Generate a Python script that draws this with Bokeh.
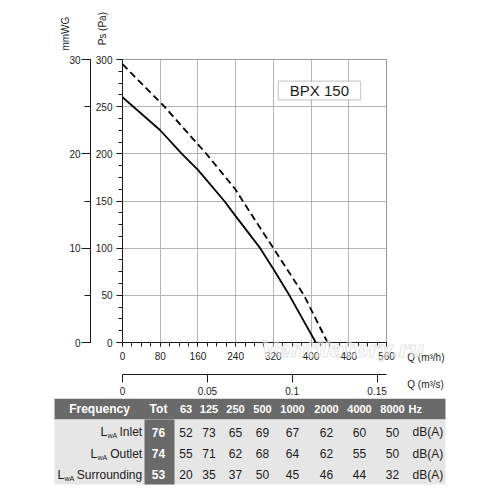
from math import pi
from bokeh.plotting import figure
from bokeh.models import (Range1d, LinearAxis, SingleIntervalTicker, FixedTicker,
                          NumeralTickFormatter, Label, BoxAnnotation)
from bokeh.layouts import column
from bokeh.embed import file_html
from bokeh.resources import INLINE
from bokeh.core.properties import value

# ---------------- data ----------------
q_solid = [0, 80, 126, 160, 216, 240, 292, 320, 354, 410]
ps_solid = [260, 225, 200, 183, 150, 134, 100, 78, 50, 0]
q_dashed = [0, 89, 160, 178, 240, 255, 320, 385, 435]
ps_dashed = [295, 250, 210, 200, 162, 150, 100, 50, 0]

q_max_m3h = 560
ps_max = 300
mmwg_max = 30
qs_ticks = [0, 0.05, 0.1, 0.15]
model_name = "BPX 150"

bands = ["63", "125", "250", "500", "1000", "2000", "4000", "8000"]
row_names = ["Inlet", "Outlet", "Surrounding"]
tot_values = [76, 74, 53]
inlet = [52, 73, 65, 69, 67, 62, 60, 50]
outlet = [55, 71, 62, 68, 64, 62, 55, 50]
surrounding = [20, 35, 37, 50, 45, 46, 44, 32]

FONT = "Liberation Sans"
INK = "#1a1a1a"

# ---------------- chart ----------------
p = figure(width=490, height=398, x_range=Range1d(0, q_max_m3h), y_range=Range1d(0, ps_max),
           output_backend="svg", toolbar_location=None, frame_align=False,
           min_border_left=122, min_border_right=104, min_border_top=59, min_border_bottom=56,
           outline_line_color="#9a9a9a")
p.background_fill_color = "white"
p.border_fill_color = "white"

xa = p.xaxis[0]
xa.ticker = SingleIntervalTicker(interval=80, num_minor_ticks=4)
ya = p.yaxis[0]
ya.ticker = SingleIntervalTicker(interval=50, num_minor_ticks=4)

for ax in (xa, ya):
    ax.axis_line_color = INK
    ax.major_tick_line_color = INK
    ax.minor_tick_line_color = INK
    ax.major_tick_in = 0
    ax.minor_tick_in = 0
    ax.major_label_text_font = FONT
    ax.major_label_text_font_size = "10px"
    ax.major_label_text_color = INK
    ax.axis_label = " "

xa.major_tick_out = 4
xa.minor_tick_out = 4
xa.major_label_standoff = 5
xa.axis_label_standoff = 0
xa.axis_label_text_font_size = "8px"

ya.major_tick_out = 6
ya.minor_tick_out = 4
ya.major_label_standoff = 4
ya.axis_label_standoff = -7
ya.axis_label_text_font_size = "6px"

p.xgrid.grid_line_color = "#b4b4b4"
p.ygrid.grid_line_color = "#b4b4b4"

# secondary axes
p.extra_y_ranges = {"mm": Range1d(0, mmwg_max)}
mm_axis = LinearAxis(y_range_name="mm", ticker=SingleIntervalTicker(interval=10, num_minor_ticks=2),
                     major_tick_out=9, major_tick_in=0, minor_tick_out=6, minor_tick_in=0,
                     major_label_standoff=1, axis_line_color=INK, major_tick_line_color=INK,
                     minor_tick_line_color=INK, major_label_text_font=FONT,
                     major_label_text_font_size="10px", major_label_text_color=INK)
p.add_layout(mm_axis, "left")

p.extra_x_ranges = {"qs": Range1d(0, q_max_m3h / 3600)}
qs_axis = LinearAxis(x_range_name="qs", ticker=FixedTicker(ticks=qs_ticks),
                     formatter=NumeralTickFormatter(format="0.[00]"),
                     major_tick_out=8, major_tick_in=0, minor_tick_out=0, minor_tick_in=0,
                     major_label_standoff=4, axis_line_color=INK, major_tick_line_color=INK,
                     major_label_text_font=FONT, major_label_text_font_size="10px",
                     major_label_text_color=INK)
p.add_layout(qs_axis, "below")

# curves
p.line(q_solid, ps_solid, line_color="black", line_width=1.8)
p.line(q_dashed, ps_dashed, line_color="black", line_width=1.8, line_dash="7 4")

# model box
p.add_layout(BoxAnnotation(left=330.5, right=505, bottom=257.3, top=277, fill_color="white",
                           fill_alpha=1, line_color="#555555", line_width=1.2))
p.add_layout(Label(x=417.7, y=267, text=model_name, text_align="center", text_baseline="middle",
                   text_font=FONT, text_font_size="15px", text_color=INK))

# axis titles (outside the frame)
p.text(x=[-42.4, -120], y=[315, 309.5], text=["Ps (Pa)", "mmWG"], angle=pi / 2,
       text_align="left", text_baseline="middle", text_font=value(FONT),
       text_font_size="10px", text_color=INK, level="overlay")
p.text(x=[604, 604], y=[-16, -44.5], text=["Q (m³/h)", "Q (m³/s)"], text_align="left",
       text_baseline="middle", text_font=value(FONT), text_font_size="10px",
       text_color=INK, level="overlay")

# watermark
p.text(x=[295], y=[-8], text=["Ventilatory.ru"], text_align="left", text_baseline="middle",
       text_font=value("DejaVu Sans"), text_font_size="21px", text_font_style="bold italic",
       text_color="white", text_alpha=0.5, text_outline_color="#c4c4c4", level="overlay")

# ---------------- table ----------------
t = figure(width=490, height=90, x_range=Range1d(0, 490), y_range=Range1d(90, 0),
           output_backend="svg", toolbar_location=None, min_border=0, frame_align=False,
           x_axis_location=None, y_axis_location=None, outline_line_color=None)
t.grid.visible = False
t.background_fill_color = "white"
t.border_fill_color = "white"

DARK = "#6a6a6a"
LIGHT = "#e6e6e6"
t.quad(left=[54], right=[445], top=[0], bottom=[21], fill_color=DARK, line_color=None)
t.quad(left=[54], right=[445], top=[21], bottom=[86], fill_color=LIGHT, line_color=None)
t.quad(left=[144], right=[174], top=[21], bottom=[86], fill_color=DARK, line_color=None)

col_x = [185.5, 208.5, 235, 262, 292, 326, 359, 392]
row_y = [33.5, 55, 76]
head_y = 10.5
tot_x = 158
label_right = 141.7
l_left = [100, 90, 57]

# header
t.text(x=[99], y=[head_y], text=["Frequency"], text_align="center", text_baseline="middle",
       text_font=value(FONT), text_font_size="12px", text_font_style="bold", text_color="white")
t.text(x=[tot_x], y=[head_y], text=["Tot"], text_align="center", text_baseline="middle",
       text_font=value(FONT), text_font_size="12px", text_font_style="bold", text_color="white")
t.text(x=col_x, y=[head_y] * len(bands), text=bands, text_align="center", text_baseline="middle",
       text_font=value(FONT), text_font_size="11px", text_font_style="bold", text_color="white")
t.text(x=[408], y=[head_y], text=["Hz"], text_align="left", text_baseline="middle",
       text_font=value(FONT), text_font_size="11px", text_font_style="bold", text_color="white")

# row labels
t.text(x=[label_right] * 3, y=row_y, text=row_names, text_align="right", text_baseline="middle",
       text_font=value(FONT), text_font_size="12px", text_color=INK)
t.text(x=l_left, y=row_y, text=["L"] * 3, text_align="left", text_baseline="middle",
       text_font=value(FONT), text_font_size="12px", text_color=INK)
t.text(x=[v + 7 for v in l_left], y=[v + 3.5 for v in row_y], text=["wA"] * 3, text_align="left",
       text_baseline="middle", text_font=value(FONT), text_font_size="7px", text_color=INK)

# tot values
t.text(x=[tot_x] * 3, y=row_y, text=[str(v) for v in tot_values], text_align="center",
       text_baseline="middle", text_font=value(FONT), text_font_size="12px",
       text_font_style="bold", text_color="white")

# band values
xs, ys, txt = [], [], []
for yy, vals in zip(row_y, [inlet, outlet, surrounding]):
    for xx, v in zip(col_x, vals):
        xs.append(xx); ys.append(yy); txt.append(str(v))
t.text(x=xs, y=ys, text=txt, text_align="center", text_baseline="middle",
       text_font=value(FONT), text_font_size="12px", text_color=INK)
t.text(x=[412] * 3, y=row_y, text=["dB(A)"] * 3, text_align="left", text_baseline="middle",
       text_font=value(FONT), text_font_size="12px", text_color=INK)

layout = column(p, t, spacing=0)
open("out.html", "w").write(file_html(layout, INLINE))
